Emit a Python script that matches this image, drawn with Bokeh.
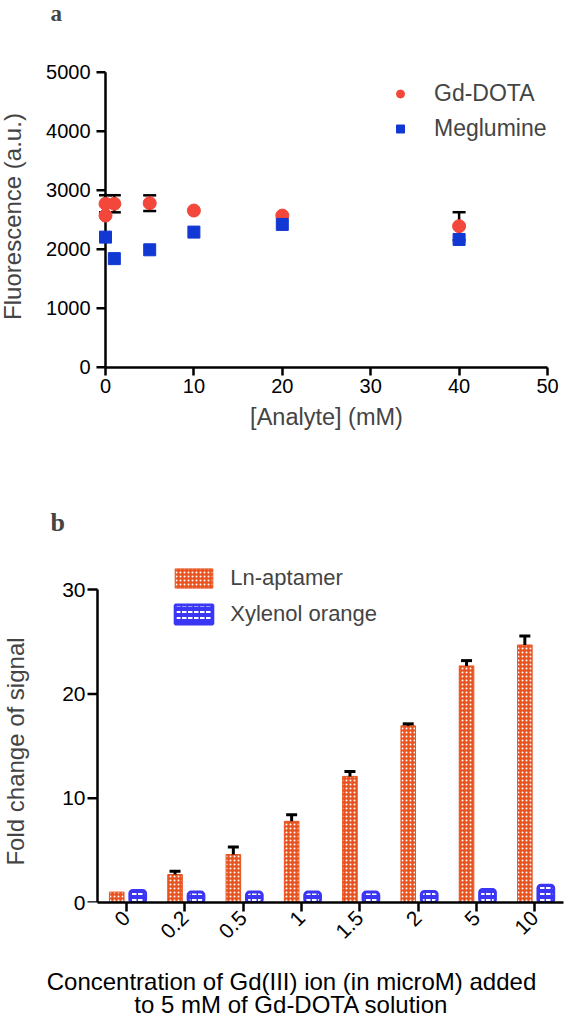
import math
from bokeh.plotting import figure
from bokeh.models import (Range1d, FixedTicker, Legend, LegendItem, Label,
                          ColumnDataSource)
from bokeh.core.properties import value
from bokeh.transform import dodge
from bokeh.layouts import column
from bokeh.embed import file_html
from bokeh.resources import INLINE

# ---------------- Panel a data ----------------
gd_x = [0, 0, 1, 5, 10, 20, 40]
gd_y = [2770, 2570, 2770, 2780, 2655, 2570, 2390]
gd_err = [145, 0, 145, 133, 0, 0, 237]
meg_x = [0, 1, 5, 10, 20, 40]
meg_y = [2205, 1840, 1990, 2290, 2420, 2165]
a_xticks = [0, 10, 20, 30, 40, 50]
a_yticks = [0, 1000, 2000, 3000, 4000, 5000]

# ---------------- Panel b data ----------------
conc = ["0", "0.2", "0.5", "1", "1.5", "2", "5", "10"]
ln_aptamer = [1.0, 2.68, 4.6, 7.78, 12.09, 16.94, 22.68, 24.69]
ln_err = [0.0, 0.32, 0.73, 0.64, 0.47, 0.19, 0.51, 0.86]
xylenol = [1.15, 1.0, 1.0, 1.0, 1.0, 1.05, 1.25, 1.65]
b_yticks = [0, 10, 20, 30]
b_xtitle = ["Concentration of Gd(III) ion (in microM) added",
            "to 5 mM of Gd-DOTA solution"]

FONT = "Liberation Sans"
SERIF = "Liberation Serif"
RED = "#f2473a"
BLUE = "#1238d4"
ORANGE = "#e8531f"
VIOLET = "#3b35f4"
W = 588
RB = 6          # right border of both figures

# ---- page geometry of panel a (px) ----
A_H = 470
A_X0, A_XS = 105.0, 8.84        # x=0 position, px per unit
A_Y0, A_YS = 366.7, 0.059       # y=0 position, px per unit
A_FB = 432.0                    # frame bottom
# ---- page geometry of panel b (px, relative to its figure) ----
B_TOP = 470
B_H = 1020 - B_TOP
B_X0, B_XS = 97.0, 58.3
B_Y0, B_YS = 903.0 - B_TOP, 10.4545


def style_axis(ax, label_size):
    ax.axis_line_width = 2.5
    ax.axis_line_color = "black"
    ax.major_tick_line_width = 2.5
    ax.major_tick_line_color = "black"
    ax.minor_tick_line_color = None
    ax.major_label_text_font = FONT
    ax.major_label_text_font_size = label_size
    ax.major_label_text_color = "black"
    ax.axis_label_text_font = FONT
    ax.axis_label_text_font_style = "normal"
    ax.axis_label_text_color = "black"


def y_axis(p, ticks, tick_len, label_size, label_offset, lw):
    """Vertical axis at x = 0 of the data, drawn with the figure's own scales."""
    p.segment(x0=[0], y0=[ticks[0]], x1=[0], y1=[ticks[-1]], line_color="black",
              line_width=lw)
    p.ray(x=[0] * len(ticks), y=ticks, length=tick_len, angle=math.pi,
          length_units="screen", line_color="black", line_width=lw)
    p.text(x=[0] * len(ticks), y=ticks, text=[str(t) for t in ticks],
           x_offset=label_offset, text_align="right", text_baseline="middle",
           text_font=value(FONT), text_font_size=value(label_size),
           text_color="black", level="overlay")


# ================= Panel a =================
pa = figure(width=W, height=A_H, title=None, y_axis_type=None,
            x_range=Range1d(-A_X0 / A_XS, (W - RB - A_X0) / A_XS),
            y_range=Range1d(-(A_FB - A_Y0) / A_YS, A_Y0 / A_YS),
            output_backend="svg", toolbar_location=None,
            min_border_left=0, min_border_right=RB, min_border_top=0,
            min_border_bottom=A_H - int(A_FB))
pa.grid.visible = False
pa.outline_line_color = None
style_axis(pa.xaxis[0], "20px")
pa.xaxis.ticker = FixedTicker(ticks=a_xticks)
pa.xaxis.fixed_location = 0
pa.xaxis.bounds = (0, 50)
pa.xaxis.major_tick_out = 8
pa.xaxis.major_tick_in = 0
pa.xaxis.major_label_standoff = 4
y_axis(pa, a_yticks, 9, "20px", -15, 2.5)

ex = [x for x, e in zip(gd_x, gd_err) if e > 0]
ey = [y for y, e in zip(gd_y, gd_err) if e > 0]
ee = [e for e in gd_err if e > 0]
err_a = ColumnDataSource(dict(x=ex, lo=[y - e for y, e in zip(ey, ee)],
                              hi=[y + e for y, e in zip(ey, ee)]))
pa.segment(x0="x", y0="lo", x1="x", y1="hi", source=err_a, line_color="black",
           line_width=2.5, level="overlay")
pa.scatter(x="x", y="hi", source=err_a, marker="dash", size=13, line_color="black",
           line_width=2.5, level="overlay")
pa.scatter(x="x", y="lo", source=err_a, marker="dash", size=13, line_color="black",
           line_width=2.5, level="overlay")
r_gd = pa.scatter(gd_x, gd_y, marker="circle", size=13, fill_color=RED, line_color=RED,
                  level="overlay")
r_meg = pa.scatter(meg_x, meg_y, marker="square", size=12, fill_color=BLUE,
                   line_color=BLUE, level="overlay")

leg_a = Legend(items=[LegendItem(label="Gd-DOTA", renderers=[r_gd]),
                      LegendItem(label="Meglumine", renderers=[r_meg])],
               location=(390, A_FB - 141.5), orientation="vertical",
               glyph_width=20, glyph_height=27, label_height=27, spacing=8,
               label_standoff=24, padding=0, margin=0,
               border_line_color=None, background_fill_alpha=0,
               label_text_font=FONT, label_text_font_size="23px")
pa.add_layout(leg_a)


def lab_a(x, y, text, **kw):
    # x, y: page pixel centre of the text
    pa.add_layout(Label(x=x, y=A_FB - y, x_units="screen", y_units="screen", text=text,
                        text_baseline="middle", **kw))


lab_a(50, 12.5, "a", text_font=SERIF, text_font_style="bold", text_font_size="23px")
lab_a(326, 416, "[Analyte] (mM)", text_font=FONT, text_font_size="23.5px",
      text_align="center")
lab_a(12, 216, "Fluorescence (a.u.)", text_font=FONT, text_font_size="24px",
      text_align="center", angle=math.pi / 2)

# ================= Panel b =================
pos = [i + 0.5 for i in range(len(conc))]
pb = figure(width=W, height=B_H, title=None, y_axis_type=None,
            x_range=Range1d(-B_X0 / B_XS, (W - RB - B_X0) / B_XS),
            y_range=Range1d(0, B_Y0 / B_YS),
            output_backend="svg", toolbar_location=None,
            min_border_left=0, min_border_right=RB, min_border_top=0,
            min_border_bottom=B_H - int(B_Y0))
pb.grid.visible = False
pb.outline_line_color = None
style_axis(pb.xaxis[0], "21px")
pb.xaxis.ticker = FixedTicker(ticks=pos)
pb.xaxis.major_label_overrides = {p: c for p, c in zip(pos, conc)}
pb.xaxis.bounds = (0, len(conc))
pb.xaxis.major_tick_out = 9
pb.xaxis.major_tick_in = 0
pb.xaxis.major_label_orientation = math.pi / 4
pb.xaxis.major_label_standoff = 3
pb.xaxis.axis_label = "\n".join(b_xtitle)
pb.xaxis.axis_label_text_font_size = "24px"
pb.xaxis.axis_label_text_line_height = 0.84
pb.xaxis.axis_label_standoff = 20
y_axis(pb, b_yticks, 10, "21px", -12, 2.5)

src_b = ColumnDataSource(dict(pos=pos, ln=ln_aptamer, xo=xylenol))
r_ln = pb.vbar(x=dodge("pos", -0.17), top="ln", width=0.25,
               source=src_b, fill_color=ORANGE, hatch_pattern="dot",
               hatch_color="white", hatch_scale=4, hatch_weight=2.5,
               line_color=ORANGE, line_width=1)
r_xo = pb.vbar(x=dodge("pos", 0.19), top="xo", width=0.27,
               source=src_b, fill_color=VIOLET, hatch_pattern="horizontal_dash",
               hatch_color="white", hatch_scale=6, hatch_weight=2,
               line_color=VIOLET, line_width=3, border_radius=3)

bp = [p for p, e in zip(pos, ln_err) if e > 0]
bt = [t for t, e in zip(ln_aptamer, ln_err) if e > 0]
be = [e for e in ln_err if e > 0]
err_b = ColumnDataSource(dict(pos=bp, lo=bt, hi=[t + e for t, e in zip(bt, be)]))
pb.segment(x0=dodge("pos", -0.17), y0="lo", x1=dodge("pos", -0.17), y1="hi",
           source=err_b, line_color="black", line_width=3)
pb.scatter(x=dodge("pos", -0.17), y="hi", source=err_b,
           marker="dash", size=11, line_color="black", line_width=3)

leg_b = Legend(items=[LegendItem(label="Ln-aptamer", renderers=[r_ln]),
                      LegendItem(label="Xylenol orange", renderers=[r_xo])],
               location=(170.3, 275), orientation="vertical",
               glyph_width=47, glyph_height=24, label_height=24, spacing=10,
               label_standoff=13, padding=0, margin=0,
               border_line_color=None, background_fill_alpha=0,
               label_text_font=FONT, label_text_font_size="22px")
pb.add_layout(leg_b)


def lab_b(x, y, text, **kw):
    # x, y: page pixel centre of the text
    pb.add_layout(Label(x=x, y=(B_TOP + B_Y0) - y, x_units="screen", y_units="screen",
                        text=text, text_baseline="middle", **kw))


lab_b(50, 523, "b", text_font=SERIF, text_font_style="bold", text_font_size="26px")
lab_b(15, 752, "Fold change of signal", text_font=FONT, text_font_size="24px",
      text_align="center", angle=math.pi / 2)

layout = column(pa, pb, spacing=0)
open("out.html", "w").write(file_html(layout, INLINE))
